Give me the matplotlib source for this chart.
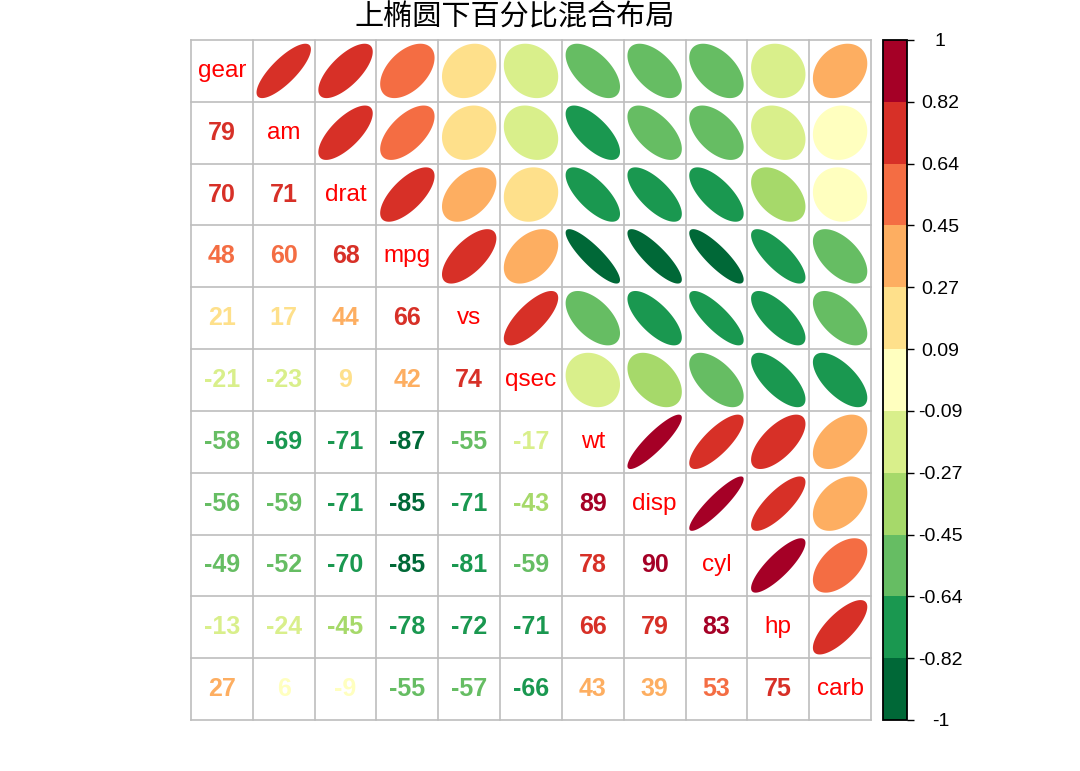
import numpy as np
import matplotlib
matplotlib.use("Agg")
import matplotlib.pyplot as plt
from matplotlib.patches import Polygon
from matplotlib.colors import ListedColormap, BoundaryNorm
from matplotlib.cm import ScalarMappable

plt.rcParams['font.family'] = ['Liberation Sans', 'DejaVu Sans']

title = "上椭圆下百分比混合布局"
names = ["gear", "am", "drat", "mpg", "vs", "qsec", "wt", "disp", "cyl", "hp", "carb"]

# lower triangle of the correlation matrix, row by row (row k has k values)
lower = [
    [],
    [0.794],
    [0.700, 0.713],
    [0.480, 0.600, 0.681],
    [0.206, 0.168, 0.440, 0.664],
    [-0.213, -0.230, 0.0912, 0.419, 0.745],
    [-0.583, -0.692, -0.712, -0.868, -0.5549, -0.1747],
    [-0.556, -0.591, -0.710, -0.848, -0.710, -0.434, 0.888],
    [-0.493, -0.523, -0.700, -0.852, -0.811, -0.591, 0.782, 0.902],
    [-0.126, -0.243, -0.449, -0.776, -0.723, -0.708, 0.659, 0.791, 0.832],
    [0.274, 0.058, -0.0908, -0.551, -0.570, -0.656, 0.428, 0.3949, 0.527, 0.750],
]

palette = ["#006837", "#1A9850", "#66BD63", "#A6D96A", "#D9EF8B", "#FFFFBF",
           "#FEE08B", "#FDAE61", "#F46D43", "#D73027", "#A50026"]
bar_labels = ["-1", "-0.82", "-0.64", "-0.45", "-0.27", "-0.09",
              "0.09", "0.27", "0.45", "0.64", "0.82", "1"]

n = len(names)
corr = np.eye(n)
for i, row in enumerate(lower):
    for j, v in enumerate(row):
        corr[i, j] = v
        corr[j, i] = v


def bin_color(r):
    k = int(np.floor((r + 1) / 2 * len(palette)))
    return palette[min(max(k, 0), len(palette) - 1)]


fig = plt.figure(figsize=(10.8, 7.71), dpi=100)
ax = fig.add_axes([191 / 1080, 51 / 771, 680 / 1080, 680 / 771])
ax.set_xlim(0, n)
ax.set_ylim(0, n)
ax.axis("off")

t = np.linspace(0, 2 * np.pi, 99)
for i in range(n):
    for j in range(n):
        cx, cy = j + 0.5, n - i - 0.5
        r = corr[i, j]
        if i == j:
            ax.text(cx, cy, names[i], color="#FF0000", fontsize=17.5,
                    ha="center", va="center")
        elif j > i:
            d = np.arccos(r)
            x = np.cos(t + d / 2) / 2 * 0.88 + cx
            y = np.cos(t - d / 2) / 2 * 0.88 + cy
            ax.add_patch(Polygon(np.column_stack([x, y]), closed=True,
                                 facecolor=bin_color(r), edgecolor="none"))
        else:
            ax.text(cx, cy, str(int(round(r * 100))), color=bin_color(r),
                    fontsize=18, fontweight="bold", ha="center", va="center")

for k in range(n + 1):
    ax.plot([k, k], [0, n], color="#BEBEBE", lw=1.2, clip_on=False)
    ax.plot([0, n], [k, k], color="#BEBEBE", lw=1.2, clip_on=False)

# colour legend
cax = fig.add_axes([883 / 1080, 51 / 771, 24 / 1080, 680 / 771])
bounds = np.linspace(-1, 1, len(palette) + 1)
cmap = ListedColormap(palette)
norm = BoundaryNorm(bounds, cmap.N)
cb = fig.colorbar(ScalarMappable(norm=norm, cmap=cmap), cax=cax, ticks=bounds)
cb.ax.set_yticklabels(bar_labels)
cb.outline.set_linewidth(1.3)
cb.ax.tick_params(length=5, width=1, labelsize=14, pad=19)
for lab in cb.ax.get_yticklabels():
    lab.set_horizontalalignment("center")

fig.text(515 / 1080, 1 - 17 / 771, title, family=["Noto Sans CJK SC", "DejaVu Sans"],
         fontsize=21, ha="center", va="center")

fig.savefig("out.png", dpi=100)
